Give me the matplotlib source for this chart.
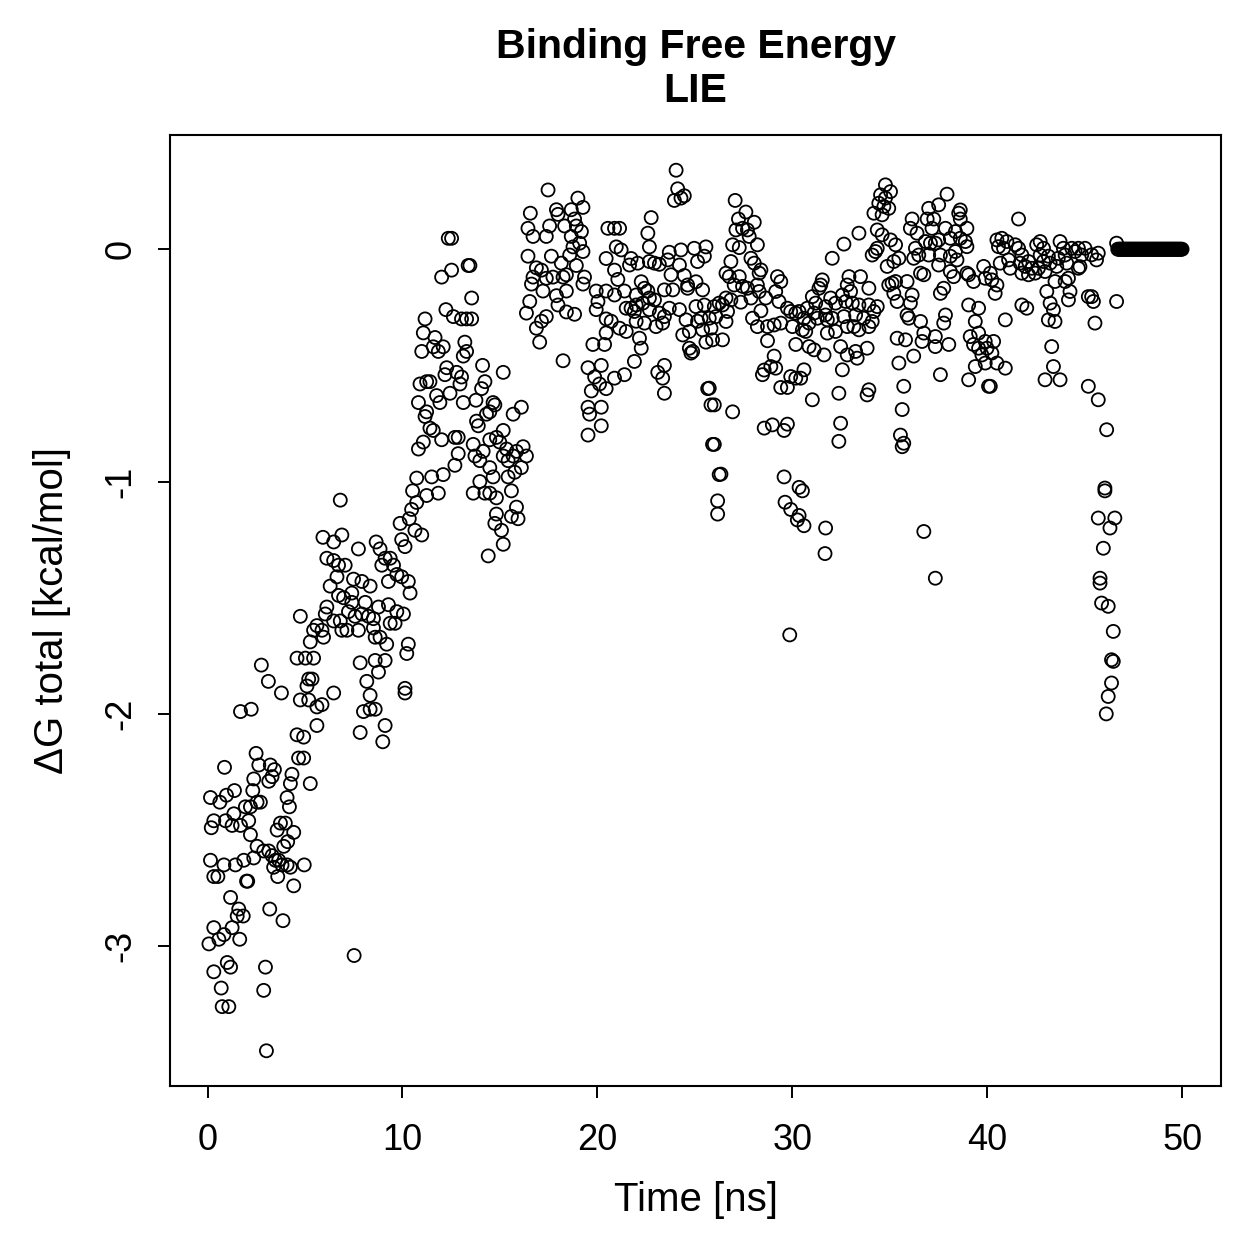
import matplotlib
matplotlib.use("Agg")
import matplotlib.pyplot as plt
import numpy as np

plt.rcParams['font.family'] = ['Liberation Sans', 'DejaVu Sans']
plt.rcParams['axes.unicode_minus'] = False

# (time [ns], dG [kcal/mol]), grouped by time window
pts_0_5 = [
    (3.02, -3.45), (2.76, -1.79), (3.12, -1.86), (3.79, -1.91), (1.69, -1.99), (2.24, -1.98),
    (0.87, -2.23), (2.49, -2.17), (2.63, -2.22), (3.22, -2.22), (3.43, -2.24), (2.37, -2.28),
    (3.14, -2.29), (3.31, -2.27), (0.15, -2.36), (0.63, -2.38), (0.97, -2.35), (1.38, -2.33),
    (2.32, -2.33), (2.54, -2.38), (2.71, -2.38), (2.20, -2.40), (1.94, -2.40), (0.32, -2.46),
    (0.19, -2.49), (0.92, -2.46), (1.26, -2.48), (1.35, -2.43), (1.69, -2.48), (2.11, -2.46),
    (2.20, -2.52), (2.54, -2.57), (2.88, -2.59), (3.14, -2.59), (3.31, -2.61), (3.48, -2.63),
    (3.65, -2.63), (3.82, -2.65), (4.08, -2.65), (4.25, -2.66), (3.39, -2.66), (3.60, -2.70),
    (0.15, -2.63), (0.32, -2.70), (0.53, -2.70), (0.84, -2.65), (1.43, -2.65), (1.86, -2.63),
    (2.37, -2.62), (2.00, -2.72), (2.06, -2.72), (4.42, -2.74), (4.96, -2.65), (1.18, -2.79),
    (1.60, -2.84), (1.52, -2.87), (1.83, -2.87), (3.19, -2.84), (3.87, -2.89), (0.32, -2.92),
    (0.07, -2.99), (0.58, -2.97), (0.84, -2.95), (1.26, -2.92), (1.65, -2.97), (1.01, -3.07),
    (1.18, -3.09), (0.32, -3.11), (2.97, -3.09), (0.70, -3.18), (2.88, -3.19), (0.75, -3.26),
    (1.09, -3.26), (4.33, -2.26), (4.25, -2.30), (4.08, -2.36), (4.20, -2.40), (3.74, -2.47),
    (3.99, -2.47), (3.57, -2.50), (4.42, -2.51), (4.11, -2.55), (3.91, -2.57), (5.27, -2.30),
]

pts_5_11 = [
    (6.81, -1.08), (5.92, -1.24), (6.47, -1.26), (6.89, -1.23), (7.74, -1.29), (8.65, -1.26),
    (8.85, -1.29), (6.12, -1.33), (6.47, -1.34), (6.72, -1.36), (7.06, -1.36), (6.64, -1.41),
    (6.29, -1.45), (7.49, -1.42), (7.92, -1.43), (8.34, -1.45), (7.40, -1.48), (6.72, -1.49),
    (6.98, -1.50), (7.40, -1.52), (8.09, -1.52), (8.77, -1.54), (9.28, -1.53), (9.71, -1.56),
    (10.05, -1.57), (6.12, -1.54), (6.04, -1.57), (4.76, -1.58), (6.47, -1.60), (6.81, -1.60),
    (7.23, -1.56), (7.57, -1.58), (7.92, -1.57), (8.26, -1.58), (8.51, -1.59), (9.37, -1.61),
    (9.62, -1.61), (5.61, -1.62), (5.87, -1.64), (5.44, -1.64), (5.95, -1.67), (5.27, -1.69),
    (6.89, -1.64), (7.15, -1.64), (7.74, -1.64), (8.51, -1.63), (8.60, -1.67), (8.85, -1.67),
    (9.19, -1.70), (10.30, -1.70), (10.22, -1.74), (4.59, -1.76), (5.02, -1.76), (5.44, -1.76),
    (7.83, -1.78), (8.60, -1.77), (9.11, -1.77), (8.77, -1.82), (5.19, -1.85), (5.36, -1.85),
    (5.10, -1.88), (8.17, -1.86), (8.34, -1.92), (6.47, -1.91), (4.76, -1.94), (5.19, -1.94),
    (5.61, -1.97), (5.87, -1.96), (8.00, -1.99), (8.34, -1.98), (8.60, -1.98), (10.13, -1.89),
    (10.13, -1.91), (5.61, -2.05), (7.83, -2.08), (9.11, -2.05), (8.99, -2.12), (4.59, -2.09),
    (4.93, -2.10), (4.67, -2.19), (4.93, -2.19), (7.52, -3.04),
    (10.52, -1.04), (10.73, -1.09), (10.47, -1.12), (10.35, -1.16), (9.88, -1.18), (10.64, -1.21),
    (10.99, -1.23), (9.96, -1.25), (10.13, -1.28), (11.24, -1.06), (10.73, -0.985), (9.11, -1.33),
    (9.37, -1.33), (9.54, -1.36), (8.94, -1.36), (9.71, -1.40), (9.96, -1.41), (10.30, -1.43),
    (9.28, -1.43), (10.39, -1.48),
]

pts_11_16 = [
    (12.35, 0.047), (12.52, 0.047), (13.46, -0.07), (13.37, -0.07), (12.01, -0.12), (12.52, -0.09),
    (13.55, -0.21), (12.23, -0.26), (12.61, -0.29), (13.03, -0.30), (13.29, -0.30), (13.55, -0.30),
    (11.16, -0.30), (11.07, -0.36), (10.99, -0.44), (11.67, -0.38), (11.58, -0.42), (11.84, -0.44),
    (12.09, -0.42), (13.20, -0.40), (13.29, -0.44), (13.12, -0.46), (14.11, -0.50), (15.17, -0.53),
    (12.27, -0.51), (12.18, -0.54), (12.78, -0.53), (13.03, -0.55), (12.95, -0.58), (10.90, -0.58),
    (11.24, -0.57), (11.41, -0.57), (12.44, -0.62), (11.75, -0.63), (11.92, -0.66), (13.12, -0.66),
    (13.77, -0.65), (14.23, -0.57), (14.06, -0.60), (14.65, -0.66), (14.74, -0.67), (15.68, -0.71),
    (16.10, -0.68), (10.82, -0.66), (11.24, -0.70), (11.16, -0.72), (13.80, -0.74), (13.89, -0.76),
    (14.31, -0.71), (14.48, -0.70), (11.41, -0.77), (11.58, -0.78), (12.01, -0.82), (12.69, -0.81),
    (12.86, -0.81), (11.07, -0.83), (10.82, -0.86), (12.86, -0.88), (12.69, -0.93), (13.63, -0.84),
    (13.72, -0.89), (14.14, -0.87), (13.97, -0.91), (14.48, -0.82), (14.82, -0.81), (15.17, -0.78),
    (14.99, -0.83), (15.34, -0.86), (15.17, -0.89), (15.42, -0.91), (15.68, -0.89), (15.85, -0.87),
    (16.19, -0.85), (16.36, -0.89), (16.10, -0.94), (15.76, -0.96), (15.42, -0.98), (14.48, -0.94),
    (14.65, -0.98), (11.50, -0.98), (12.09, -0.97), (11.84, -1.05), (13.97, -1.00), (13.63, -1.05),
    (14.23, -1.05), (14.48, -1.05), (14.82, -1.07), (15.59, -1.04), (15.85, -1.11), (15.93, -1.16),
    (15.59, -1.15), (14.82, -1.14), (14.74, -1.18), (15.08, -1.21), (15.17, -1.27), (14.40, -1.32),
]

pts_16_21 = [
    (17.47, 0.255), (19.00, 0.22), (19.26, 0.18), (16.56, 0.155), (17.90, 0.17), (17.98, 0.15),
    (18.66, 0.17), (18.83, 0.13), (18.92, 0.10), (16.44, 0.09), (16.70, 0.055), (17.38, 0.055),
    (17.55, 0.10), (18.32, 0.10), (19.18, 0.076), (20.54, 0.09), (18.66, 0.055), (19.09, 0.026),
    (18.75, 0.01), (19.26, -0.01), (16.44, -0.03), (17.64, -0.03), (18.15, -0.06), (18.58, -0.025),
    (18.92, -0.07), (20.45, -0.04), (16.87, -0.08), (17.13, -0.09), (16.70, -0.12), (17.38, -0.125),
    (17.72, -0.12), (18.24, -0.12), (18.41, -0.11), (19.34, -0.12), (16.62, -0.15), (17.21, -0.18),
    (17.90, -0.20), (18.41, -0.18), (19.26, -0.15), (19.94, -0.18), (20.45, -0.18), (16.53, -0.225),
    (17.98, -0.24), (18.41, -0.27), (18.83, -0.28), (20.03, -0.225), (19.94, -0.26), (16.36, -0.275),
    (17.38, -0.29), (17.13, -0.31), (16.87, -0.34), (17.04, -0.40), (18.24, -0.48), (19.77, -0.41),
    (20.37, -0.41), (20.45, -0.30), (20.45, -0.36), (19.52, -0.51), (20.20, -0.50), (19.86, -0.55),
    (20.11, -0.58), (19.69, -0.61), (20.45, -0.60), (19.52, -0.68), (19.60, -0.71), (20.20, -0.68),
    (20.20, -0.76), (19.52, -0.80),
]

pts_21_26 = [
    (24.04, 0.34), (24.12, 0.26), (23.95, 0.21), (24.29, 0.22), (24.46, 0.23), (22.76, 0.136),
    (20.88, 0.09), (21.14, 0.09), (22.59, 0.069), (22.67, 0.01), (20.97, 0.01), (21.22, -0.003),
    (21.73, -0.04), (21.65, -0.068), (22.07, -0.06), (22.67, -0.053), (22.93, -0.06), (23.18, -0.065),
    (23.69, -0.013), (24.29, -0.003), (23.61, -0.046), (24.21, -0.068), (24.97, 0.004), (25.57, 0.01),
    (25.49, -0.03), (25.14, -0.053), (20.88, -0.09), (21.05, -0.13), (22.25, -0.14), (22.42, -0.168),
    (23.44, -0.175), (23.87, -0.175), (23.78, -0.11), (24.46, -0.113), (24.63, -0.154), (24.63, -0.168),
    (25.06, -0.14), (25.40, -0.175), (20.88, -0.197), (21.39, -0.18), (21.99, -0.197), (22.59, -0.18),
    (22.67, -0.21), (22.93, -0.218), (21.48, -0.254), (21.73, -0.254), (21.90, -0.268), (21.99, -0.24),
    (22.33, -0.232), (22.67, -0.26), (23.18, -0.275), (23.44, -0.29), (23.69, -0.254), (24.21, -0.26),
    (25.06, -0.247), (25.49, -0.24), (20.71, -0.31), (21.99, -0.31), (22.42, -0.318), (21.14, -0.34),
    (21.48, -0.354), (23.01, -0.333), (23.35, -0.318), (24.55, -0.304), (25.14, -0.31), (25.32, -0.297),
    (24.38, -0.369), (24.72, -0.354), (25.40, -0.347), (22.16, -0.383), (22.25, -0.426), (24.72, -0.426),
    (24.80, -0.447), (24.89, -0.44), (25.57, -0.40), (21.90, -0.483), (21.39, -0.54), (20.88, -0.555),
    (23.44, -0.50), (23.10, -0.53), (23.35, -0.555), (23.44, -0.62), (25.66, -0.60), (25.83, -0.67),
]

pts_26_30 = [
    (27.07, 0.21), (27.62, 0.16), (28.05, 0.116), (27.24, 0.13), (27.11, 0.083), (27.45, 0.09),
    (27.70, 0.083), (27.79, 0.055), (28.21, 0.019), (26.94, 0.019), (27.28, 0.007), (26.85, -0.053),
    (27.88, -0.039), (28.05, -0.06), (28.39, -0.089), (28.30, -0.103), (26.60, -0.103), (26.77, -0.118),
    (27.28, -0.118), (27.02, -0.154), (27.45, -0.16), (27.70, -0.168), (28.21, -0.154), (29.24, -0.118),
    (29.41, -0.139), (26.60, -0.21), (26.85, -0.218), (26.25, -0.232), (26.42, -0.24), (27.36, -0.228),
    (27.88, -0.21), (28.30, -0.182), (28.64, -0.21), (29.15, -0.182), (29.32, -0.225), (29.75, -0.254),
    (29.92, -0.268), (30.18, -0.275), (26.00, -0.247), (26.68, -0.268), (26.08, -0.29), (25.74, -0.297),
    (25.83, -0.34), (26.60, -0.311), (28.39, -0.265), (27.96, -0.297), (28.21, -0.333), (28.73, -0.333),
    (29.07, -0.326), (29.41, -0.318), (30.01, -0.333), (25.91, -0.39), (26.42, -0.39), (28.73, -0.394),
    (29.07, -0.46), (28.90, -0.505), (28.56, -0.52), (28.47, -0.54), (29.15, -0.512), (29.41, -0.595),
    (29.75, -0.595), (29.92, -0.548), (30.18, -0.555), (25.74, -0.598), (26.00, -0.67), (26.94, -0.70),
    (28.56, -0.77), (28.98, -0.756), (29.58, -0.78), (29.75, -0.753), (30.18, -0.41),
]

pts_30_35 = [
    (34.78, 0.277), (34.53, 0.234), (34.78, 0.22), (34.44, 0.198), (34.70, 0.184), (34.19, 0.155),
    (34.61, 0.148), (34.95, 0.176), (33.42, 0.069), (32.65, 0.022), (34.36, 0.083), (34.61, 0.062),
    (34.36, 0.004), (34.10, -0.025), (34.27, -0.01), (32.05, -0.039), (34.87, -0.074), (34.95, -0.154),
    (31.54, -0.132), (31.46, -0.154), (31.37, -0.168), (32.91, -0.118), (33.50, -0.118), (32.82, -0.154),
    (33.93, -0.168), (32.99, -0.182), (32.57, -0.197), (31.03, -0.204), (31.97, -0.21), (31.20, -0.232),
    (30.77, -0.254), (31.12, -0.275), (31.71, -0.247), (32.22, -0.232), (32.74, -0.225), (33.08, -0.232),
    (33.42, -0.24), (33.93, -0.24), (34.36, -0.247), (34.19, -0.268), (30.35, -0.268), (30.60, -0.297),
    (30.86, -0.318), (31.29, -0.297), (31.71, -0.283), (31.80, -0.304), (32.05, -0.297), (32.65, -0.29),
    (33.25, -0.283), (33.67, -0.297), (34.10, -0.311), (30.69, -0.354), (30.52, -0.347), (31.80, -0.361),
    (32.22, -0.354), (32.82, -0.333), (33.16, -0.333), (33.42, -0.347), (33.93, -0.333), (30.86, -0.419),
    (31.12, -0.433), (31.63, -0.455), (32.48, -0.419), (32.82, -0.455), (33.25, -0.44), (33.84, -0.426),
    (33.33, -0.469), (32.57, -0.519), (30.60, -0.519), (30.43, -0.555), (31.03, -0.648), (32.39, -0.62),
    (33.84, -0.627), (33.93, -0.605), (32.48, -0.749), (32.39, -0.827),
]

pts_35_40 = [
    (35.04, 0.248), (35.04, 0.04), (35.30, 0.019), (37.94, 0.237), (37.51, 0.191), (37.00, 0.176),
    (36.92, 0.13), (37.26, 0.13), (36.15, 0.13), (36.06, 0.09), (36.40, 0.069), (37.17, 0.09),
    (37.86, 0.09), (38.54, 0.155), (38.62, 0.13), (38.62, 0.169), (38.96, 0.09), (38.37, 0.076),
    (38.11, 0.047), (38.62, 0.047), (38.88, 0.033), (38.96, 0.011), (36.83, 0.033), (37.09, 0.026),
    (37.34, 0.026), (37.51, 0.04), (36.32, 0.004), (36.49, -0.025), (37.00, -0.025), (37.60, -0.025),
    (38.37, -0.01), (38.11, -0.03), (38.45, -0.046), (36.23, -0.039), (37.51, -0.068), (38.11, -0.096),
    (38.28, -0.118), (38.96, -0.103), (39.05, -0.11), (39.30, -0.139), (39.82, -0.074), (39.90, -0.125),
    (35.21, -0.053), (35.47, -0.039), (35.12, -0.146), (35.30, -0.139), (35.89, -0.139), (35.21, -0.19),
    (35.38, -0.225), (36.15, -0.197), (36.06, -0.232), (36.58, -0.103), (36.75, -0.11), (37.77, -0.168),
    (37.60, -0.19), (35.89, -0.283), (35.98, -0.297), (36.58, -0.311), (36.75, -0.361), (36.66, -0.397),
    (37.34, -0.376), (37.34, -0.419), (37.86, -0.283), (37.77, -0.318), (38.03, -0.41), (35.38, -0.383),
    (35.81, -0.39), (39.05, -0.24), (39.56, -0.254), (39.39, -0.311), (35.47, -0.49), (36.23, -0.46),
    (37.60, -0.54), (35.72, -0.59), (39.05, -0.562), (35.64, -0.69), (35.55, -0.80), (35.72, -0.835),
    (39.13, -0.376), (39.56, -0.361), (39.56, -0.426), (39.30, -0.41), (39.73, -0.455), (39.39, -0.505),
    (39.90, -0.49), (39.90, -0.397), (40.07, -0.59),
]

pts_40_45 = [
    (41.61, 0.13), (40.50, 0.04), (40.75, 0.047), (41.01, 0.033), (40.58, 0.011), (40.84, 0.004),
    (40.67, -0.06), (41.10, -0.046), (41.18, -0.082), (41.44, 0.019), (41.61, 0.004), (41.78, -0.025),
    (41.69, -0.06), (41.95, -0.074), (42.12, -0.053), (42.29, -0.082), (41.78, -0.103), (42.12, -0.11),
    (42.46, -0.103), (42.63, -0.082), (42.54, 0.019), (42.72, 0.033), (42.89, 0.004), (42.72, -0.025),
    (42.89, -0.053), (43.14, -0.03), (43.23, -0.06), (42.97, -0.096), (43.57, -0.074), (43.65, -0.039),
    (43.74, 0.033), (43.91, 0.004), (44.00, -0.025), (44.08, -0.06), (44.34, 0.004), (44.51, -0.01),
    (44.68, 0.004), (44.85, -0.025), (45.02, 0.004), (44.68, -0.082), (40.16, -0.103), (40.24, -0.132),
    (40.50, -0.154), (40.41, -0.19), (43.06, -0.182), (43.48, -0.139), (44.00, -0.139), (44.17, -0.218),
    (43.23, -0.232), (43.40, -0.261), (43.14, -0.304), (43.48, -0.311), (41.78, -0.24), (42.03, -0.254),
    (40.93, -0.304), (40.33, -0.397), (39.99, -0.426), (40.24, -0.447), (40.50, -0.49), (40.93, -0.512),
    (40.16, -0.59), (43.31, -0.419), (43.40, -0.505), (42.97, -0.562), (43.74, -0.562), (45.19, -0.204),
    (45.19, -0.59),
]

pts_45_47 = [
    (44.17, -0.125), (44.25, -0.182), (44.76, -0.075), (45.36, -0.024), (45.70, -0.017), (45.61, -0.046),
    (45.36, -0.204), (45.45, -0.225), (46.64, -0.225), (45.53, -0.318), (45.70, -0.648), (46.13, -0.777),
    (46.04, -1.028), (46.04, -1.04), (45.70, -1.157), (46.55, -1.157), (46.30, -1.20), (45.96, -1.287),
    (45.79, -1.416), (45.79, -1.437), (45.87, -1.523), (46.21, -1.537), (46.47, -1.645), (46.38, -1.767),
    (46.47, -1.774), (46.38, -1.867), (46.21, -1.925), (46.11, -2.00), (46.64, 0.026),
]

# isolated low points between 25 and 38 ns
pts_outliers = [
    (26.00, -0.84), (25.91, -0.84), (26.34, -0.968), (26.25, -0.97), (26.17, -1.083), (26.17, -1.14),
    (29.58, -0.98), (30.35, -1.025), (30.52, -1.04), (29.63, -1.089), (29.92, -1.12), (30.35, -1.146),
    (30.26, -1.165), (30.60, -1.19), (31.71, -1.20), (31.68, -1.31), (29.87, -1.66), (35.64, -0.85),
    (36.75, -1.215), (37.34, -1.416),
]

# final plateau: dG sits at 0 for every frame from ~46.7 ns to the end
flat_time = [46.70, 46.75, 46.80, 46.85, 46.90, 46.95, 47.00, 47.05, 47.10, 47.15, 47.20, 47.25,
             47.30, 47.35, 47.40, 47.45, 47.50, 47.55, 47.60, 47.65, 47.70, 47.75, 47.80, 47.85,
             47.90, 47.95, 48.00, 48.05, 48.10, 48.15, 48.20, 48.25, 48.30, 48.35, 48.40, 48.45,
             48.50, 48.55, 48.60, 48.65, 48.70, 48.75, 48.80, 48.85, 48.90, 48.95, 49.00, 49.05,
             49.10, 49.15, 49.20, 49.25, 49.30, 49.35, 49.40, 49.45, 49.50, 49.55, 49.60, 49.65,
             49.70, 49.75, 49.80, 49.85, 49.90, 49.95, 50.00]
flat_dg = [0.0] * len(flat_time)

all_pts = (pts_0_5 + pts_5_11 + pts_11_16 + pts_16_21 + pts_21_26 + pts_26_30
           + pts_30_35 + pts_35_40 + pts_40_45 + pts_45_47 + pts_outliers)
time_ns = np.array([p[0] for p in all_pts] + flat_time)
dg_total = np.array([p[1] for p in all_pts] + flat_dg)

fig = plt.figure(figsize=(12.59, 12.59), dpi=100)
ax = fig.add_axes([170 / 1259, 1 - 1086 / 1259, 1051 / 1259, 951 / 1259])

ax.scatter(time_ns, dg_total, s=88, facecolors='none', edgecolors='black', linewidths=1.3)

# R style 4% padding around the data
xpad = 0.04 * (time_ns.max() - time_ns.min())
ypad = 0.04 * (dg_total.max() - dg_total.min())
ax.set_xlim(time_ns.min() - xpad, time_ns.max() + xpad)
ax.set_ylim(dg_total.min() - ypad, dg_total.max() + ypad)

ax.set_xticks([0, 10, 20, 30, 40, 50])
ax.set_yticks([0, -1, -2, -3])
ax.tick_params(direction='out', length=8.6, width=1.4, labelsize=26)
ax.tick_params(axis='x', pad=18)
ax.tick_params(axis='y', pad=14)
for lab in ax.get_yticklabels():
    lab.set_rotation(90)
    lab.set_verticalalignment('center')
for s in ax.spines.values():
    s.set_linewidth(1.5)

ax.set_xlabel('Time [ns]', fontsize=29)
ax.set_ylabel('ΔG total [kcal/mol]', fontsize=29)
lx = ax.xaxis.get_label()
lx.set_verticalalignment('center')
ax.xaxis.set_label_coords(0.5, -0.12)
ly = ax.yaxis.get_label()
ly.set_verticalalignment('center')
ax.yaxis.set_label_coords(-0.112, 0.5)
ax.set_title('Binding Free Energy\nLIE', fontsize=29.5, fontweight='bold', pad=24, linespacing=1.2)

fig.savefig('out.png', dpi=100)
